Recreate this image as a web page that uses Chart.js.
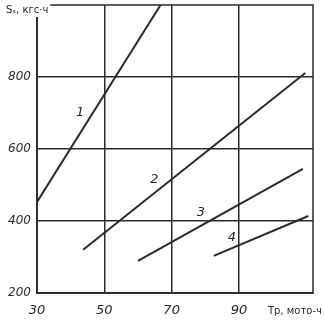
<!DOCTYPE html>
<html><head><meta charset="utf-8">
<script src="https://cdn.jsdelivr.net/npm/chart.js@4"></script>
<style>html,body{margin:0;padding:0;background:#fff;}canvas{display:block;}</style>
</head><body>
<canvas id="c" width="324" height="327"></canvas>
<script>
// Data
const line1X = [30, 66.7];   const line1Y = [453, 1000];
const line2X = [43.7, 109.7]; const line2Y = [320, 811];
const line3X = [60, 109];    const line3Y = [289, 545];
const line4X = [82.5, 110.6]; const line4Y = [303, 414];
const curveLabels = ['1', '2', '3', '4'];
const curveLabelX = [42.8, 64.9, 78.7, 87.9];
const curveLabelY = [700, 514, 422, 353];
const xTicks = [30, 50, 70, 90];
const yTicks = [200, 400, 600, 800];
const xTitle = 'Tр, мото-ч';
const yTitle = 'Sₛ, кгс·ч';

function pts(xs, ys){ return xs.map((x,i)=>({x:x, y:ys[i]})); }
const ink = '#2a2a2a';
const ds = (xs, ys) => ({data: pts(xs, ys), showLine: true, borderColor: ink, borderWidth: 2, pointRadius: 0, fill: false});

const decor = {
  id: 'decor',
  afterDraw(chart){
    const ctx = chart.ctx, a = chart.chartArea, xs = chart.scales.x, ys = chart.scales.y;
    ctx.save();
    ctx.strokeStyle = ink; ctx.lineWidth = 1.5;
    ctx.strokeRect(a.left, a.top, a.right - a.left, a.bottom - a.top);
    ctx.fillStyle = ink;
    ctx.font = 'italic 13px "DejaVu Sans"';
    ctx.textAlign = 'center'; ctx.textBaseline = 'middle';
    curveLabels.forEach((t,i)=>{
      const px = xs.getPixelForValue(curveLabelX[i]);
      const py = ys.getPixelForValue(curveLabelY[i]);
      ctx.fillText(t, px, py);
    });
    // y title
    ctx.font = '10px "DejaVu Sans"';
    ctx.textAlign = 'left';
    const w = ctx.measureText(yTitle).width;
    ctx.fillStyle = '#fff';
    ctx.fillRect(4, 1, w + 4, 16);
    ctx.fillStyle = ink;
    ctx.fillText(yTitle, 6, 10);
    // x title
    ctx.fillText(xTitle, 268, 311);
    ctx.restore();
  }
};

new Chart(document.getElementById('c'), {
  type: 'scatter',
  data: { datasets: [ds(line1X,line1Y), ds(line2X,line2Y), ds(line3X,line3Y), ds(line4X,line4Y)] },
  options: {
    responsive: false, animation: false,
    layout: { padding: { top: 5, right: 11, left: 0, bottom: 0 } },
    plugins: { legend: { display: false }, tooltip: { enabled: false } },
    scales: {
      x: {
        type: 'linear', min: 30, max: 112,
        afterBuildTicks: s => { s.ticks = xTicks.map(v => ({value: v})); },
        afterFit: s => { s.height = 34; },
        grid: { color: ink, lineWidth: 1.5, drawTicks: false },
        border: { color: ink, width: 1.5 },
        ticks: { padding: 10, color: ink, font: { family: 'DejaVu Sans', style: 'italic', size: 13 }, maxRotation: 0 }
      },
      y: {
        type: 'linear', min: 200, max: 1000,
        afterBuildTicks: s => { s.ticks = yTicks.map(v => ({value: v})); },
        afterFit: s => { s.width = 37; s.paddingTop = 0; s.paddingBottom = 0; },
        grid: { color: ink, lineWidth: 1.5, drawTicks: false },
        border: { color: ink, width: 1.5 },
        ticks: { padding: 6, color: ink, font: { family: 'DejaVu Sans', style: 'italic', size: 12 } }
      }
    }
  },
  plugins: [decor]
});
</script>
</body></html>
